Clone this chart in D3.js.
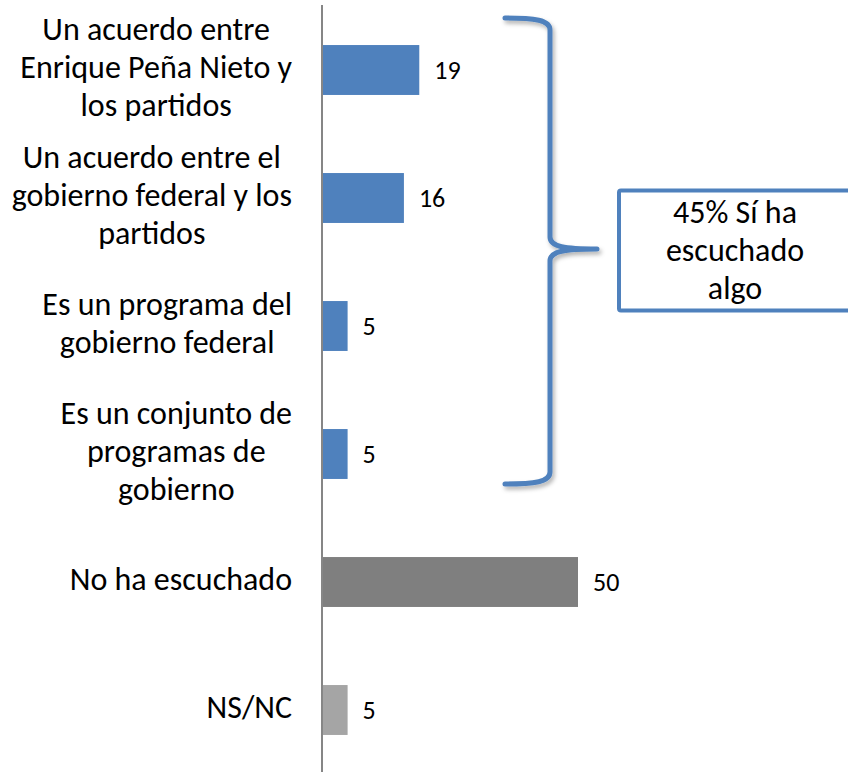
<!DOCTYPE html>
<html>
<head>
<meta charset="utf-8">
<script src="https://cdn.jsdelivr.net/npm/d3@7"></script>
<style>
  body { margin: 0; background: #fff; }
  svg { display: block; font-family: Carlito, Calibri, "Open Sans", sans-serif; }
</style>
</head>
<body>
<svg id="chart" width="848" height="772"></svg>
<script>
// categories (one array of lines per label), values and bar colours
var labels = [
    ['Un acuerdo entre', 'Enrique Peña Nieto y', 'los partidos'],
    ['Un acuerdo entre el', 'gobierno federal y los', 'partidos'],
    ['Es un programa del', 'gobierno federal'],
    ['Es un conjunto de', 'programas de', 'gobierno'],
    ['No ha escuchado'],
    ['NS/NC']
];
var values = [19, 16, 5, 5, 50, 5];
var colors = ['#4F81BD', '#4F81BD', '#4F81BD', '#4F81BD', '#7F7F7F', '#A5A5A5'];
var boxLines = ['45% Sí ha', 'escuchado', 'algo'];

var svg = d3.select('#chart');
var axisX = 322;

var x = d3.scaleLinear()
    .domain([0, 50])
    .range([axisX, 578]);

var y = d3.scaleBand()
    .domain(d3.range(values.length))
    .range([6, 774])
    .paddingInner(0.61)
    .paddingOuter(0.305);

// bars
svg.selectAll('rect.bar')
    .data(values)
    .enter().append('rect')
    .attr('class', 'bar')
    .attr('x', x(0))
    .attr('y', function(d, i) { return y(i); })
    .attr('width', function(d) { return x(d) - x(0); })
    .attr('height', y.bandwidth())
    .attr('fill', function(d, i) { return colors[i]; });

// value labels
svg.selectAll('text.val')
    .data(values)
    .enter().append('text')
    .attr('class', 'val')
    .attr('x', function(d) { return x(d) + 15; })
    .attr('y', function(d, i) { return y(i) + y.bandwidth() / 2 + 9; })
    .attr('font-size', 26)
    .attr('fill', '#000')
    .text(function(d) { return d; });

// vertical axis line
svg.append('line')
    .attr('x1', axisX).attr('x2', axisX)
    .attr('y1', 5).attr('y2', 772)
    .attr('stroke', '#868686')
    .attr('stroke-width', 2);

// category labels: block right-aligned at 292, lines centred inside block
var lineH = 38, labelRight = 292;
var cat = svg.selectAll('text.cat')
    .data(labels)
    .enter().append('text')
    .attr('class', 'cat')
    .attr('text-anchor', 'middle')
    .attr('font-size', 32)
    .attr('fill', '#000');

cat.each(function(lines, i) {
    var t = d3.select(this);
    var cy = y(i) + y.bandwidth() / 2 + 8;
    var top = cy - (lines.length - 1) * lineH / 2;
    var spans = t.selectAll('tspan')
        .data(lines)
        .enter().append('tspan')
        .attr('y', function(d, j) { return top + j * lineH; })
        .text(function(d) { return d; });
    var maxW = d3.max(spans.nodes(), function(n) { return n.getComputedTextLength(); });
    spans.attr('x', labelRight - maxW / 2);
});

// brace grouping the first four bars
var defs = svg.append('defs');
var f = defs.append('filter').attr('id', 'shadow')
    .attr('x', '-30%').attr('y', '-5%').attr('width', '160%').attr('height', '110%');
f.append('feDropShadow')
    .attr('dx', 2).attr('dy', 3).attr('stdDeviation', 2)
    .attr('flood-color', '#000').attr('flood-opacity', 0.3);

var bTop = 18, bBot = 484, bMid = 249, bx = 550, tipX = 597;
var brace = d3.path();
brace.moveTo(505, bTop);
brace.bezierCurveTo(535, bTop, bx, bTop + 2, bx, bTop + 12);
brace.lineTo(bx, bMid - 12);
brace.bezierCurveTo(bx, bMid - 2, 565, bMid, tipX, bMid);
brace.moveTo(tipX, bMid);
brace.bezierCurveTo(565, bMid, bx, bMid + 2, bx, bMid + 12);
brace.lineTo(bx, bBot - 12);
brace.bezierCurveTo(bx, bBot - 2, 535, bBot, 505, bBot);

svg.append('path')
    .attr('d', brace.toString())
    .attr('fill', 'none')
    .attr('stroke', '#4F81BD')
    .attr('stroke-width', 5)
    .attr('stroke-linecap', 'round')
    .attr('filter', 'url(#shadow)');

// annotation box
svg.append('rect')
    .attr('x', 619).attr('y', 190.5)
    .attr('width', 260).attr('height', 120)
    .attr('rx', 2)
    .attr('fill', '#fff')
    .attr('stroke', '#4F81BD')
    .attr('stroke-width', 4);

svg.append('text')
    .attr('text-anchor', 'middle')
    .attr('font-size', 32)
    .attr('fill', '#000')
    .selectAll('tspan')
    .data(boxLines)
    .enter().append('tspan')
    .attr('x', 735)
    .attr('y', function(d, j) { return 223 + j * 38; })
    .text(function(d) { return d; });
</script>
</body>
</html>
